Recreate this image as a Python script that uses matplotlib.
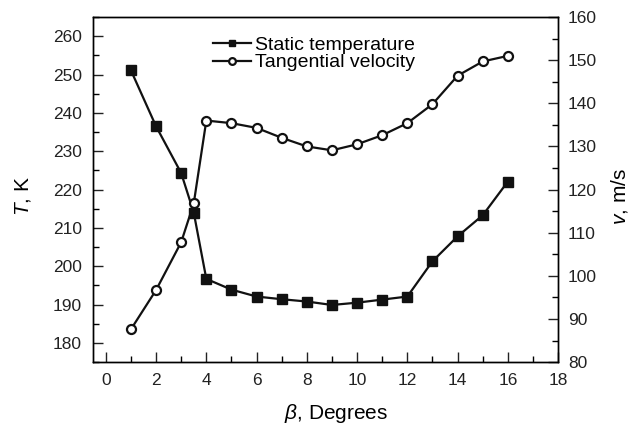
import numpy as np
import matplotlib
matplotlib.use("Agg")
from matplotlib import pyplot as plt
from matplotlib.ticker import MultipleLocator

plt.rcParams['font.family'] = ['Liberation Sans', 'DejaVu Sans']
plt.rcParams['mathtext.fontset'] = 'custom'
plt.rcParams['mathtext.it'] = 'Liberation Sans:italic'

# beta (degrees) and the two series
beta = [1, 2, 3, 3.5, 4, 5, 6, 7, 8, 9, 10, 11, 12, 13, 14, 15, 16]
temp = [251.1, 236.5, 224.3, 214.0, 196.7, 193.9, 192.1, 191.4, 190.8, 189.9,
        190.5, 191.3, 192.1, 201.3, 207.8, 213.3, 222.1]
vel = [87.6, 96.7, 107.8, 116.8, 136.0, 135.4, 134.3, 132.0, 130.0, 129.1,
       130.5, 132.6, 135.4, 139.8, 146.4, 149.7, 151.0]

fig = plt.figure(figsize=(6.43, 4.26), dpi=100)
ax = fig.add_axes([0.145, 0.150, 0.723, 0.810])
ax2 = ax.twinx()

l1, = ax.plot(beta, temp, color='#111111', lw=1.6, marker='s', ms=6.5,
              mfc='#111111', mec='#111111', label='Static temperature')
l2, = ax2.plot(beta, vel, color='#111111', lw=1.6, marker='o', ms=6.5,
               mfc='white', mec='#111111', mew=1.6, label='Tangential velocity')

ax.set_xlim(-0.5, 18)
ax.set_ylim(175, 265)
ax2.set_ylim(80, 160)

ax.xaxis.set_major_locator(MultipleLocator(2))
ax.xaxis.set_minor_locator(MultipleLocator(1))
ax.yaxis.set_major_locator(MultipleLocator(10))
ax.yaxis.set_minor_locator(MultipleLocator(5))
ax2.yaxis.set_major_locator(MultipleLocator(10))
ax2.yaxis.set_minor_locator(MultipleLocator(5))
ax.set_yticks(np.arange(180, 261, 10))

for a in (ax, ax2):
    a.tick_params(which='major', direction='in', length=7, width=1, labelsize=12.5,
                  colors='#222222')
    a.tick_params(which='minor', direction='in', length=4, width=1)
    for s in a.spines.values():
        s.set_linewidth(1.0)
ax.tick_params(axis='x', pad=8)
ax.tick_params(axis='y', pad=8)
ax2.tick_params(axis='y', pad=7)

ax.set_xlabel(r'$\mathit{\beta}$, Degrees', fontsize=15)
ax.xaxis.set_label_coords(0.523, -0.115)
ax.set_ylabel(r'$\mathit{T}$, K', fontsize=15)
ax.yaxis.set_label_coords(-0.13, 0.481)
ax2.set_ylabel(r'$\mathit{v}$, m/s', fontsize=15)
ax2.yaxis.set_label_coords(1.11, 0.48)

leg = ax.legend(handles=[l1, l2], loc='upper left', bbox_to_anchor=(0.24, 0.967),
                frameon=False, fontsize=14, handlelength=2.0, handletextpad=0.2,
                labelspacing=0.0, borderaxespad=0, markerscale=0.75)

fig.savefig('out.png', dpi=100)
